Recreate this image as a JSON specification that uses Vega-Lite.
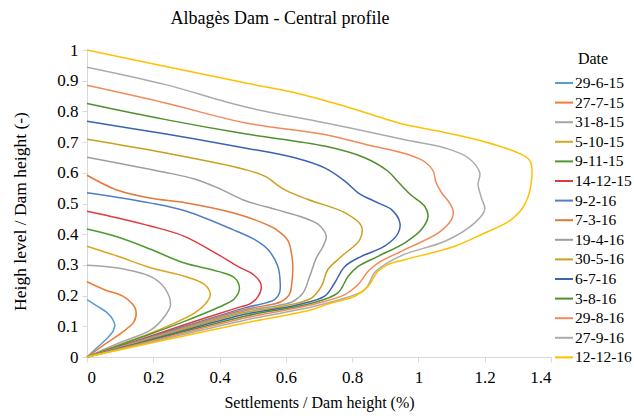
{
"$schema":"https://vega.github.io/schema/vega-lite/v6.json",
"width":464,"height":307,
"autosize":{"type":"none"},
"padding":{"left":87,"top":50,"right":83,"bottom":61},
"background":"white",
"title":{"text":"Albagès Dam - Central profile","font":"Liberation Serif","fontSize":18,"fontWeight":"normal","color":"#000","anchor":"middle","dx":-39,"offset":13},
"config":{"view":{"stroke":null},"font":"Liberation Serif"},
"data":{"values":[
{"d":"29-6-15","i":0,"x":0,"y":0.187},{"d":"29-6-15","i":1,"x":0.032,"y":0.165},{"d":"29-6-15","i":2,"x":0.062,"y":0.143},{"d":"29-6-15","i":3,"x":0.078,"y":0.122},{"d":"29-6-15","i":4,"x":0.084,"y":0.105},{"d":"29-6-15","i":5,"x":0.079,"y":0.085},{"d":"29-6-15","i":6,"x":0.06,"y":0.06},{"d":"29-6-15","i":7,"x":0.03,"y":0.03},{"d":"29-6-15","i":8,"x":0,"y":0},
{"d":"27-7-15","i":0,"x":0,"y":0.245},{"d":"27-7-15","i":1,"x":0.053,"y":0.219},{"d":"27-7-15","i":2,"x":0.108,"y":0.198},{"d":"27-7-15","i":3,"x":0.138,"y":0.172},{"d":"27-7-15","i":4,"x":0.148,"y":0.149},{"d":"27-7-15","i":5,"x":0.142,"y":0.115},{"d":"27-7-15","i":6,"x":0.103,"y":0.078},{"d":"27-7-15","i":7,"x":0.05,"y":0.039},{"d":"27-7-15","i":8,"x":0,"y":0},
{"d":"31-8-15","i":0,"x":0,"y":0.299},{"d":"31-8-15","i":1,"x":0.093,"y":0.29},{"d":"31-8-15","i":2,"x":0.194,"y":0.261},{"d":"31-8-15","i":3,"x":0.234,"y":0.225},{"d":"31-8-15","i":4,"x":0.252,"y":0.17},{"d":"31-8-15","i":5,"x":0.234,"y":0.132},{"d":"31-8-15","i":6,"x":0.194,"y":0.089},{"d":"31-8-15","i":7,"x":0.093,"y":0.044},{"d":"31-8-15","i":8,"x":0,"y":0},
{"d":"5-10-15","i":0,"x":0,"y":0.361},{"d":"5-10-15","i":1,"x":0.093,"y":0.328},{"d":"5-10-15","i":2,"x":0.194,"y":0.29},{"d":"5-10-15","i":3,"x":0.294,"y":0.263},{"d":"5-10-15","i":4,"x":0.355,"y":0.236},{"d":"5-10-15","i":5,"x":0.372,"y":0.203},{"d":"5-10-15","i":6,"x":0.355,"y":0.17},{"d":"5-10-15","i":7,"x":0.324,"y":0.143},{"d":"5-10-15","i":8,"x":0.194,"y":0.078},{"d":"5-10-15","i":9,"x":0.093,"y":0.038},{"d":"5-10-15","i":10,"x":0,"y":0},
{"d":"9-11-15","i":0,"x":0,"y":0.417},{"d":"9-11-15","i":1,"x":0.093,"y":0.391},{"d":"9-11-15","i":2,"x":0.194,"y":0.35},{"d":"9-11-15","i":3,"x":0.294,"y":0.306},{"d":"9-11-15","i":4,"x":0.395,"y":0.279},{"d":"9-11-15","i":5,"x":0.445,"y":0.258},{"d":"9-11-15","i":6,"x":0.46,"y":0.222},{"d":"9-11-15","i":7,"x":0.445,"y":0.19},{"d":"9-11-15","i":8,"x":0.425,"y":0.176},{"d":"9-11-15","i":9,"x":0.294,"y":0.116},{"d":"9-11-15","i":10,"x":0.143,"y":0.056},{"d":"9-11-15","i":11,"x":0,"y":0},
{"d":"14-12-15","i":0,"x":0,"y":0.475},{"d":"14-12-15","i":1,"x":0.093,"y":0.453},{"d":"14-12-15","i":2,"x":0.194,"y":0.426},{"d":"14-12-15","i":3,"x":0.294,"y":0.393},{"d":"14-12-15","i":4,"x":0.395,"y":0.334},{"d":"14-12-15","i":5,"x":0.455,"y":0.295},{"d":"14-12-15","i":6,"x":0.5,"y":0.27},{"d":"14-12-15","i":7,"x":0.522,"y":0.245},{"d":"14-12-15","i":8,"x":0.526,"y":0.225},{"d":"14-12-15","i":9,"x":0.515,"y":0.195},{"d":"14-12-15","i":10,"x":0.49,"y":0.172},{"d":"14-12-15","i":11,"x":0.465,"y":0.164},{"d":"14-12-15","i":12,"x":0.294,"y":0.105},{"d":"14-12-15","i":13,"x":0.15,"y":0.053},{"d":"14-12-15","i":14,"x":0,"y":0},
{"d":"9-2-16","i":0,"x":0,"y":0.535},{"d":"9-2-16","i":1,"x":0.189,"y":0.502},{"d":"9-2-16","i":2,"x":0.3,"y":0.475},{"d":"9-2-16","i":3,"x":0.44,"y":0.415},{"d":"9-2-16","i":4,"x":0.51,"y":0.38},{"d":"9-2-16","i":5,"x":0.546,"y":0.35},{"d":"9-2-16","i":6,"x":0.576,"y":0.295},{"d":"9-2-16","i":7,"x":0.583,"y":0.24},{"d":"9-2-16","i":8,"x":0.581,"y":0.209},{"d":"9-2-16","i":9,"x":0.566,"y":0.187},{"d":"9-2-16","i":10,"x":0.476,"y":0.16},{"d":"9-2-16","i":11,"x":0.25,"y":0.085},{"d":"9-2-16","i":12,"x":0,"y":0},
{"d":"7-3-16","i":0,"x":0,"y":0.592},{"d":"7-3-16","i":1,"x":0.088,"y":0.545},{"d":"7-3-16","i":2,"x":0.189,"y":0.518},{"d":"7-3-16","i":3,"x":0.3,"y":0.502},{"d":"7-3-16","i":4,"x":0.44,"y":0.47},{"d":"7-3-16","i":5,"x":0.53,"y":0.437},{"d":"7-3-16","i":6,"x":0.571,"y":0.415},{"d":"7-3-16","i":7,"x":0.606,"y":0.38},{"d":"7-3-16","i":8,"x":0.618,"y":0.33},{"d":"7-3-16","i":9,"x":0.621,"y":0.295},{"d":"7-3-16","i":10,"x":0.618,"y":0.24},{"d":"7-3-16","i":11,"x":0.611,"y":0.205},{"d":"7-3-16","i":12,"x":0.585,"y":0.18},{"d":"7-3-16","i":13,"x":0.476,"y":0.155},{"d":"7-3-16","i":14,"x":0.25,"y":0.082},{"d":"7-3-16","i":15,"x":0,"y":0},
{"d":"19-4-16","i":0,"x":0,"y":0.651},{"d":"19-4-16","i":1,"x":0.234,"y":0.602},{"d":"19-4-16","i":2,"x":0.324,"y":0.58},{"d":"19-4-16","i":3,"x":0.395,"y":0.551},{"d":"19-4-16","i":4,"x":0.476,"y":0.51},{"d":"19-4-16","i":5,"x":0.571,"y":0.48},{"d":"19-4-16","i":6,"x":0.65,"y":0.455},{"d":"19-4-16","i":7,"x":0.7,"y":0.43},{"d":"19-4-16","i":8,"x":0.722,"y":0.393},{"d":"19-4-16","i":9,"x":0.712,"y":0.36},{"d":"19-4-16","i":10,"x":0.692,"y":0.323},{"d":"19-4-16","i":11,"x":0.672,"y":0.263},{"d":"19-4-16","i":12,"x":0.652,"y":0.209},{"d":"19-4-16","i":13,"x":0.62,"y":0.18},{"d":"19-4-16","i":14,"x":0.576,"y":0.168},{"d":"19-4-16","i":15,"x":0.476,"y":0.15},{"d":"19-4-16","i":16,"x":0.25,"y":0.08},{"d":"19-4-16","i":17,"x":0,"y":0},
{"d":"30-5-16","i":0,"x":0,"y":0.709},{"d":"30-5-16","i":1,"x":0.234,"y":0.665},{"d":"30-5-16","i":2,"x":0.476,"y":0.611},{"d":"30-5-16","i":3,"x":0.536,"y":0.589},{"d":"30-5-16","i":4,"x":0.596,"y":0.545},{"d":"30-5-16","i":5,"x":0.667,"y":0.513},{"d":"30-5-16","i":6,"x":0.778,"y":0.47},{"d":"30-5-16","i":7,"x":0.828,"y":0.426},{"d":"30-5-16","i":8,"x":0.823,"y":0.382},{"d":"30-5-16","i":9,"x":0.768,"y":0.328},{"d":"30-5-16","i":10,"x":0.727,"y":0.285},{"d":"30-5-16","i":11,"x":0.707,"y":0.23},{"d":"30-5-16","i":12,"x":0.677,"y":0.192},{"d":"30-5-16","i":13,"x":0.576,"y":0.162},{"d":"30-5-16","i":14,"x":0.476,"y":0.145},{"d":"30-5-16","i":15,"x":0.25,"y":0.077},{"d":"30-5-16","i":16,"x":0,"y":0},
{"d":"6-7-16","i":0,"x":0,"y":0.768},{"d":"6-7-16","i":1,"x":0.234,"y":0.727},{"d":"6-7-16","i":2,"x":0.476,"y":0.681},{"d":"6-7-16","i":3,"x":0.627,"y":0.649},{"d":"6-7-16","i":4,"x":0.717,"y":0.616},{"d":"6-7-16","i":5,"x":0.778,"y":0.573},{"d":"6-7-16","i":6,"x":0.818,"y":0.535},{"d":"6-7-16","i":7,"x":0.878,"y":0.502},{"d":"6-7-16","i":8,"x":0.919,"y":0.48},{"d":"6-7-16","i":9,"x":0.944,"y":0.437},{"d":"6-7-16","i":10,"x":0.939,"y":0.404},{"d":"6-7-16","i":11,"x":0.898,"y":0.361},{"d":"6-7-16","i":12,"x":0.828,"y":0.328},{"d":"6-7-16","i":13,"x":0.778,"y":0.295},{"d":"6-7-16","i":14,"x":0.747,"y":0.241},{"d":"6-7-16","i":15,"x":0.717,"y":0.198},{"d":"6-7-16","i":16,"x":0.627,"y":0.168},{"d":"6-7-16","i":17,"x":0.476,"y":0.139},{"d":"6-7-16","i":18,"x":0.25,"y":0.073},{"d":"6-7-16","i":19,"x":0,"y":0},
{"d":"3-8-16","i":0,"x":0,"y":0.826},{"d":"3-8-16","i":1,"x":0.234,"y":0.774},{"d":"3-8-16","i":2,"x":0.476,"y":0.727},{"d":"3-8-16","i":3,"x":0.717,"y":0.687},{"d":"3-8-16","i":4,"x":0.838,"y":0.649},{"d":"3-8-16","i":5,"x":0.908,"y":0.605},{"d":"3-8-16","i":6,"x":0.939,"y":0.57},{"d":"3-8-16","i":7,"x":0.975,"y":0.53},{"d":"3-8-16","i":8,"x":1.019,"y":0.491},{"d":"3-8-16","i":9,"x":1.029,"y":0.458},{"d":"3-8-16","i":10,"x":1.009,"y":0.415},{"d":"3-8-16","i":11,"x":0.959,"y":0.372},{"d":"3-8-16","i":12,"x":0.878,"y":0.328},{"d":"3-8-16","i":13,"x":0.818,"y":0.295},{"d":"3-8-16","i":14,"x":0.788,"y":0.263},{"d":"3-8-16","i":15,"x":0.757,"y":0.209},{"d":"3-8-16","i":16,"x":0.677,"y":0.175},{"d":"3-8-16","i":17,"x":0.476,"y":0.133},{"d":"3-8-16","i":18,"x":0.25,"y":0.07},{"d":"3-8-16","i":19,"x":0,"y":0},
{"d":"29-8-16","i":0,"x":0,"y":0.885},{"d":"29-8-16","i":1,"x":0.234,"y":0.828},{"d":"29-8-16","i":2,"x":0.476,"y":0.763},{"d":"29-8-16","i":3,"x":0.717,"y":0.725},{"d":"29-8-16","i":4,"x":0.85,"y":0.69},{"d":"29-8-16","i":5,"x":0.959,"y":0.663},{"d":"29-8-16","i":6,"x":1.019,"y":0.636},{"d":"29-8-16","i":7,"x":1.045,"y":0.605},{"d":"29-8-16","i":8,"x":1.052,"y":0.572},{"d":"29-8-16","i":9,"x":1.07,"y":0.535},{"d":"29-8-16","i":10,"x":1.095,"y":0.5},{"d":"29-8-16","i":11,"x":1.105,"y":0.475},{"d":"29-8-16","i":12,"x":1.1,"y":0.448},{"d":"29-8-16","i":13,"x":1.06,"y":0.404},{"d":"29-8-16","i":14,"x":0.959,"y":0.35},{"d":"29-8-16","i":15,"x":0.878,"y":0.306},{"d":"29-8-16","i":16,"x":0.848,"y":0.279},{"d":"29-8-16","i":17,"x":0.818,"y":0.236},{"d":"29-8-16","i":18,"x":0.778,"y":0.203},{"d":"29-8-16","i":19,"x":0.677,"y":0.17},{"d":"29-8-16","i":20,"x":0.476,"y":0.127},{"d":"29-8-16","i":21,"x":0.25,"y":0.067},{"d":"29-8-16","i":22,"x":0,"y":0},
{"d":"27-9-16","i":0,"x":0,"y":0.944},{"d":"27-9-16","i":1,"x":0.234,"y":0.888},{"d":"27-9-16","i":2,"x":0.476,"y":0.815},{"d":"27-9-16","i":3,"x":0.717,"y":0.763},{"d":"27-9-16","i":4,"x":0.959,"y":0.708},{"d":"27-9-16","i":5,"x":1.08,"y":0.681},{"d":"27-9-16","i":6,"x":1.15,"y":0.649},{"d":"27-9-16","i":7,"x":1.185,"y":0.6},{"d":"27-9-16","i":8,"x":1.18,"y":0.562},{"d":"27-9-16","i":9,"x":1.19,"y":0.518},{"d":"27-9-16","i":10,"x":1.2,"y":0.48},{"d":"27-9-16","i":11,"x":1.17,"y":0.437},{"d":"27-9-16","i":12,"x":1.08,"y":0.377},{"d":"27-9-16","i":13,"x":0.959,"y":0.335},{"d":"27-9-16","i":14,"x":0.898,"y":0.301},{"d":"27-9-16","i":15,"x":0.868,"y":0.275},{"d":"27-9-16","i":16,"x":0.838,"y":0.219},{"d":"27-9-16","i":17,"x":0.778,"y":0.192},{"d":"27-9-16","i":18,"x":0.677,"y":0.163},{"d":"27-9-16","i":19,"x":0.476,"y":0.12},{"d":"27-9-16","i":20,"x":0.25,"y":0.063},{"d":"27-9-16","i":21,"x":0,"y":0},
{"d":"12-12-16","i":0,"x":0,"y":1.0},{"d":"12-12-16","i":1,"x":0.234,"y":0.947},{"d":"12-12-16","i":2,"x":0.476,"y":0.893},{"d":"12-12-16","i":3,"x":0.627,"y":0.861},{"d":"12-12-16","i":4,"x":0.778,"y":0.817},{"d":"12-12-16","i":5,"x":0.959,"y":0.757},{"d":"12-12-16","i":6,"x":1.06,"y":0.736},{"d":"12-12-16","i":7,"x":1.21,"y":0.698},{"d":"12-12-16","i":8,"x":1.311,"y":0.66},{"d":"12-12-16","i":9,"x":1.337,"y":0.638},{"d":"12-12-16","i":10,"x":1.342,"y":0.584},{"d":"12-12-16","i":11,"x":1.321,"y":0.497},{"d":"12-12-16","i":12,"x":1.281,"y":0.448},{"d":"12-12-16","i":13,"x":1.19,"y":0.399},{"d":"12-12-16","i":14,"x":1.11,"y":0.361},{"d":"12-12-16","i":15,"x":0.959,"y":0.317},{"d":"12-12-16","i":16,"x":0.908,"y":0.301},{"d":"12-12-16","i":17,"x":0.878,"y":0.279},{"d":"12-12-16","i":18,"x":0.848,"y":0.23},{"d":"12-12-16","i":19,"x":0.808,"y":0.198},{"d":"12-12-16","i":20,"x":0.737,"y":0.176},{"d":"12-12-16","i":21,"x":0.677,"y":0.154},{"d":"12-12-16","i":22,"x":0.476,"y":0.111},{"d":"12-12-16","i":23,"x":0.2,"y":0.047},{"d":"12-12-16","i":24,"x":0,"y":0}
]},
"mark":{"type":"line","interpolate":"catmull-rom","strokeWidth":1.5},
"encoding":{
"x":{"field":"x","type":"quantitative","scale":{"domain":[0,1.4],"nice":false,"zero":true},
"axis":{"values":[0,0.2,0.4,0.6,0.8,1,1.2,1.4],"format":".1~f","title":"Settlements / Dam height (%)","grid":false,"domainColor":"#D9D9D9","tickColor":"#D9D9D9","tickSize":5,"labelFont":"Liberation Serif","labelFontSize":17,"labelColor":"#000","labelPadding":7,"titleFont":"Liberation Serif","titleFontSize":16,"titleFontWeight":"normal","titleColor":"#000","titlePadding":9}},
"y":{"field":"y","type":"quantitative","scale":{"domain":[0,1],"nice":false},
"axis":{"values":[0,0.1,0.2,0.3,0.4,0.5,0.6,0.7,0.8,0.9,1],"format":".1~f","title":"Heigh level / Dam height (-)","grid":false,"domainColor":"#D9D9D9","tickColor":"#D9D9D9","tickSize":5,"labelFont":"Liberation Serif","labelFontSize":17,"labelColor":"#000","labelPadding":4,"titleFont":"Liberation Serif","titleFontSize":17.5,"titleFontWeight":"normal","titleColor":"#000","titlePadding":27,"titleY":161}},
"color":{"field":"d","type":"nominal","scale":{"domain":["29-6-15","27-7-15","31-8-15","5-10-15","9-11-15","14-12-15","9-2-16","7-3-16","19-4-16","30-5-16","6-7-16","3-8-16","29-8-16","27-9-16","12-12-16"],"range":["#5B9BD5","#ED7D31","#A5A5A5","#D9A521","#4E9A2E","#E03A3E","#4E7FC4","#E07A3A","#9E9E9E","#C9A01C","#3B63B0","#4F8F2E","#F08A5A","#ABABAB","#FFC000"]},
"legend":{"title":"Date","orient":"none","legendX":467,"legendY":1,"symbolType":"stroke","symbolSize":324,"symbolStrokeWidth":2,"labelFont":"Liberation Serif","labelFontSize":15.5,"labelColor":"#000","labelOffset":1,"rowPadding":0.6,"titleFont":"Liberation Serif","titleFontSize":16,"titleFontWeight":"normal","titleColor":"#000","titlePadding":6,"titleAnchor":"middle","padding":0}},
"order":{"field":"i","type":"quantitative"}
}
}
